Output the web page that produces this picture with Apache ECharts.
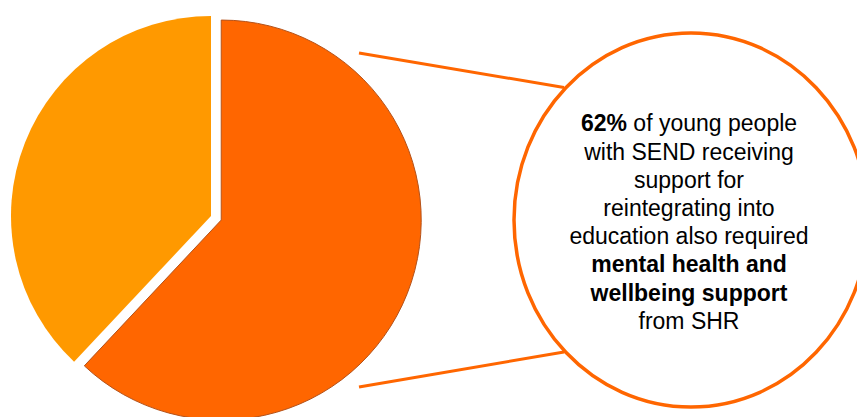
<!DOCTYPE html>
<html>
<head>
<meta charset="utf-8">
<style>
  html, body { margin: 0; padding: 0; background: #ffffff; }
  #chart { width: 857px; height: 417px; }
</style>
<script src="https://cdn.jsdelivr.net/npm/echarts@6/dist/echarts.min.js"></script>
</head>
<body>
<div id="chart"></div>
<script>
// Young people with SEND receiving reintegration support from SHR
const categories = ['Also required mental health and wellbeing support', 'Did not require mental health and wellbeing support'];
const shares = [62, 38];
const sliceColors = ['#FF6600', '#FF9900'];

const chart = echarts.init(document.getElementById('chart'), null, { renderer: 'svg' });

const orange = '#FF6600';
const pieData = categories.map((name, i) => ({
  name: name,
  value: shares[i],
  selected: i === 0,
  itemStyle: i === 0
    ? { color: sliceColors[i], borderColor: '#B4521A', borderWidth: 1 }
    : { color: sliceColors[i], borderWidth: 0 }
}));

const calloutText =
  '{b|' + shares[0] + '%} of young people\n' +
  'with SEND receiving\n' +
  'support for\n' +
  'reintegrating into\n' +
  'education also required\n' +
  '{b|mental health and}\n' +
  '{b|wellbeing support}\n' +
  'from SHR';

const fontFamily = '"Liberation Sans", Arial, Helvetica, sans-serif';

chart.setOption({
  animation: false,
  backgroundColor: '#ffffff',
  series: [{
    type: 'pie',
    center: [211, 216],
    radius: [0, 200],
    startAngle: 90,
    clockwise: true,
    selectedMode: 'single',
    selectedOffset: 11,
    label: { show: false },
    labelLine: { show: false },
    emphasis: { disabled: true },
    data: pieData
  }],
  graphic: [
    // connector lines from the highlighted slice to the callout
    {
      type: 'line',
      shape: { x1: 359, y1: 53, x2: 564, y2: 87.5 },
      style: { stroke: orange, lineWidth: 3 },
      z: 1
    },
    {
      type: 'line',
      shape: { x1: 359, y1: 387, x2: 564, y2: 352 },
      style: { stroke: orange, lineWidth: 3 },
      z: 1
    },
    // callout bubble
    {
      type: 'ellipse',
      shape: { cx: 691, cy: 220, rx: 177, ry: 187 },
      style: { fill: '#ffffff', stroke: orange, lineWidth: 3.5 },
      z: 2
    },
    {
      type: 'text',
      x: 689,
      y: 222,
      z: 3,
      style: {
        text: calloutText,
        fill: '#000000',
        fontSize: 23,
        fontFamily: fontFamily,
        lineHeight: 28.2,
        align: 'center',
        verticalAlign: 'middle',
        rich: {
          b: {
            fontWeight: 'bold',
            fontSize: 23,
            fontFamily: fontFamily,
            lineHeight: 28.2,
            fill: '#000000'
          }
        }
      }
    }
  ]
});
</script>
</body>
</html>
